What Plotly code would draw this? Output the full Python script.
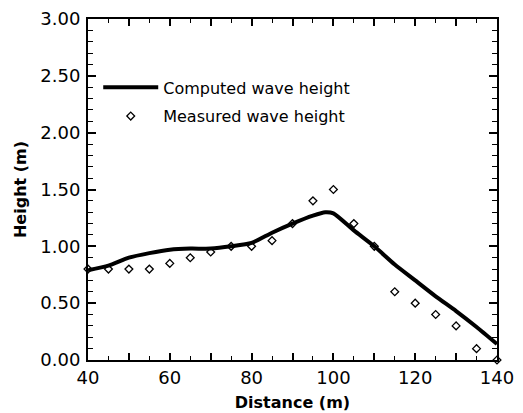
import plotly.graph_objects as go

# Computed wave height (line)
comp_x = [40, 45, 50, 55, 60, 65, 70, 75, 80, 85, 90, 95, 98, 100, 105, 110, 115, 120, 125, 130, 135, 140]
comp_y = [0.79, 0.83, 0.90, 0.94, 0.97, 0.98, 0.98, 1.00, 1.03, 1.12, 1.20, 1.27, 1.30, 1.29, 1.14, 1.00, 0.84, 0.70, 0.56, 0.43, 0.29, 0.14]

# Measured wave height (points)
meas_x = [40, 45, 50, 55, 60, 65, 70, 75, 80, 85, 90, 95, 100, 105, 110, 115, 120, 125, 130, 135, 140]
meas_y = [0.80, 0.80, 0.80, 0.80, 0.85, 0.90, 0.95, 1.00, 1.00, 1.05, 1.20, 1.40, 1.50, 1.20, 1.00, 0.60, 0.50, 0.40, 0.30, 0.10, 0.00]

x_tickvals = [40, 50, 60, 70, 80, 90, 100, 110, 120, 130, 140]
x_ticktext = ["40", "", "60", "", "80", "", "100", "", "120", "", "140"]
y_tickvals = [0, 0.5, 1.0, 1.5, 2.0, 2.5, 3.0]
y_ticktext = ["0.00", "0.50", "1.00", "1.50", "2.00", "2.50", "3.00"]

FONT = "DejaVu Sans, Verdana, sans-serif"

fig = go.Figure()
fig.add_trace(go.Scatter(
    x=comp_x, y=comp_y, mode="lines", name="Computed wave height",
    line=dict(color="black", width=4, shape="spline", smoothing=0.6),
    legendgroup="a",
))
fig.add_trace(go.Scatter(
    x=meas_x, y=meas_y, mode="markers", name="Measured wave height",
    marker=dict(symbol="diamond-open", size=6, color="black", line=dict(width=1.3, color="black")),
    legendgroup="b", cliponaxis=False,
))

fig.update_layout(
    width=523, height=413,
    margin=dict(l=88, r=26, t=19, b=53, autoexpand=False),
    paper_bgcolor="white", plot_bgcolor="white",
    font=dict(family=FONT, size=18, color="black"),
    showlegend=True,
    legend=dict(
        x=0.025, y=0.757, xanchor="left", yanchor="middle",
        bgcolor="rgba(0,0,0,0)", borderwidth=0,
        font=dict(family=FONT, size=16, color="black"),
        tracegroupgap=5, itemwidth=55,
    ),
    xaxis=dict(
        range=[40, 140], showgrid=False, zeroline=False, automargin=False,
        showline=True, linecolor="black", linewidth=2, mirror="allticks",
        ticks="inside", ticklen=7, tickwidth=1.5, tickcolor="black",
        tickvals=x_tickvals, ticktext=x_ticktext, ticklabelstandoff=0,
        minor=dict(dtick=5, tick0=40, ticks="inside", ticklen=4, tickwidth=1.2, tickcolor="black"),
        tickfont=dict(size=18),
        title=dict(text="Distance (m)", font=dict(family=FONT, size=16, weight="bold"), standoff=10),
    ),
    yaxis=dict(
        range=[0, 3], showgrid=False, zeroline=False, automargin=False,
        showline=True, linecolor="black", linewidth=2, mirror="allticks",
        ticks="inside", ticklen=8, tickwidth=1.5, tickcolor="black",
        tickvals=y_tickvals, ticktext=y_ticktext, ticklabelstandoff=2,
        minor=dict(dtick=0.1, tick0=0, ticks="inside", ticklen=5, tickwidth=1.2, tickcolor="black"),
        tickfont=dict(size=18),
        title=dict(text="Height (m)", font=dict(family=FONT, size=16, weight="bold"), standoff=10),
    ),
)

fig.write_html("out.html")
